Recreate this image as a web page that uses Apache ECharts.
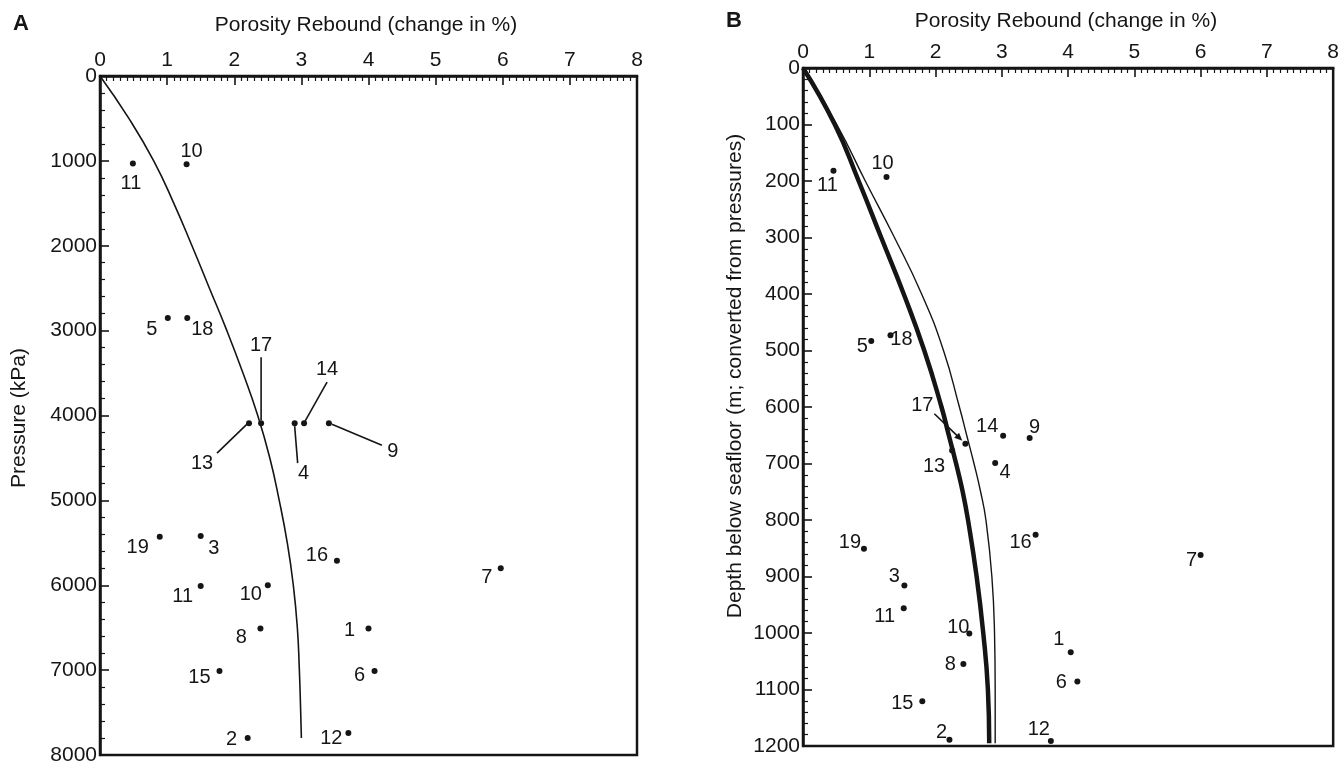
<!DOCTYPE html>
<html>
<head>
<meta charset="utf-8">
<script src="https://cdn.jsdelivr.net/npm/echarts@6/dist/echarts.min.js"></script>
<style>
  html, body { margin: 0; padding: 0; background: #ffffff; }
  #chart { width: 1342px; height: 769px; }
</style>
</head>
<body>
<div id="chart"></div>
<script>
// Core sample numbers, same order in both panels
const sampleIds = ['11', '10', '5', '18', '17', '13', '14', '4', '9', '19', '3', '16', '7', '11', '10', '8', '1', '15', '6', '2', '12'];

// Panel A: overburden pressure (kPa) and porosity rebound (%)
const pressureKPa = [1030, 1040, 2850, 2850, 4090, 4090, 4090, 4090, 4090, 5430, 5420, 5710, 5800, 6010, 6000, 6510, 6510, 7010, 7010, 7800, 7740];
const reboundA = [0.49, 1.29, 1.01, 1.30, 2.40, 2.22, 3.04, 2.90, 3.41, 0.89, 1.50, 3.53, 5.97, 1.50, 2.50, 2.39, 4.00, 1.78, 4.09, 2.20, 3.70];

// Panel B: depth below seafloor (m) and porosity rebound (%)
const depthM = [182, 193, 483, 473, 665, 677, 651, 699, 655, 851, 916, 826, 862, 956, 1001, 1055, 1034, 1121, 1086, 1189, 1191];
const reboundB = [0.46, 1.26, 1.03, 1.32, 2.45, 2.25, 3.02, 2.90, 3.42, 0.92, 1.53, 3.51, 6.00, 1.52, 2.51, 2.42, 4.04, 1.80, 4.14, 2.21, 3.74];

// Trend curve, panel A
const trendAPressure = [0, 500, 1000, 1500, 2000, 2500, 3000, 3500, 4000, 4500, 5000, 5500, 6000, 6500, 7000, 7500, 7800];
const trendARebound = [0, 0.43, 0.80, 1.10, 1.37, 1.63, 1.89, 2.13, 2.35, 2.53, 2.67, 2.79, 2.88, 2.94, 2.97, 2.99, 3.00];

// Trend curves, panel B (heavy and light)
const trendBDepth = [0, 100, 200, 300, 400, 500, 600, 650, 700, 750, 800, 900, 1000, 1100, 1195];
const trendBHeavy = [0, 0.48, 0.84, 1.18, 1.52, 1.83, 2.09, 2.20, 2.31, 2.41, 2.49, 2.62, 2.72, 2.79, 2.81];
const trendBLight = [0, 0.51, 0.94, 1.38, 1.79, 2.12, 2.36, 2.47, 2.58, 2.68, 2.76, 2.85, 2.89, 2.90, 2.90];

// Label placement (pixel offsets from each point)
const labelOffsetA = [[-2, 20], [5, -13], [-16, 12], [15, 12], [0, -78], [-47, 40], [23, -54], [9, 50], [64, 28], [-22, 11], [13, 12], [-20, -5], [-14, 9], [-18, 10], [-17, 9], [-19, 9], [-19, 2], [-20, 7], [-15, 5], [-16, 1], [-17, 6]];
const labelOffsetB = [[-6, 15], [-4, -14], [-9, 6], [11, 4], [-43, -38], [-18, 16], [-16, -9], [10, 10], [5, -11], [-14, -6], [-10, -9], [-15, 8], [-9, 5], [-19, 8], [-11, -6], [-13, 0], [-12, -13], [-20, 2], [-16, 1], [-8, -7], [-12, -11]];

// Leader lines in panel A: point index, start and end offsets (px)
const leadersA = [
  { i: 4, from: [0, -66], to: [0, -3] },
  { i: 5, from: [-32, 30], to: [-2, 1] },
  { i: 6, from: [23, -41], to: [1, -2] },
  { i: 7, from: [0, 3], to: [3, 40] },
  { i: 8, from: [3, 1], to: [53, 22] }
];

const FONT = '"Liberation Sans", Arial, Helvetica, sans-serif';
const INK = '#151515';

const chart = echarts.init(document.getElementById('chart'), null, { renderer: 'canvas' });

const plainNumber = function (v) { return String(v); };

function xAxisFor(gridIndex) {
  return {
    type: 'value', gridIndex: gridIndex, position: 'top',
    min: 0, max: 8, interval: 1,
    axisLine: { show: true, onZero: false, lineStyle: { color: INK, width: 2.5 } },
    axisTick: { show: true, inside: true, length: 9, lineStyle: { color: INK, width: 1.6 } },
    minorTick: { show: true, splitNumber: 10, length: 5, lineStyle: { color: INK, width: 1.2 } },
    splitLine: { show: false }, minorSplitLine: { show: false },
    axisLabel: { color: INK, fontFamily: FONT, fontSize: 21, margin: 5, formatter: plainNumber }
  };
}
function yAxisFor(gridIndex, max, interval) {
  return {
    type: 'value', gridIndex: gridIndex, inverse: true,
    min: 0, max: max, interval: interval,
    axisLine: { show: true, onZero: false, lineStyle: { color: INK, width: 2.5 } },
    axisTick: { show: true, inside: true, length: 9, lineStyle: { color: INK, width: 1.6 } },
    minorTick: { show: true, splitNumber: 5, length: 5, lineStyle: { color: INK, width: 1.2 } },
    splitLine: { show: false }, minorSplitLine: { show: false },
    axisLabel: { color: INK, fontFamily: FONT, fontSize: 21, margin: 3, formatter: plainNumber }
  };
}

function scatterData(xs, ys, offsets) {
  return xs.map(function (x, k) {
    return { value: [x, ys[k]], label: { offset: offsets[k] } };
  });
}
function curveData(xs, ys) {
  return xs.map(function (x, k) { return [x, ys[k]]; });
}

const pointLabel = {
  show: true, position: 'inside',
  formatter: function (p) { return sampleIds[p.dataIndex]; },
  color: INK, fontFamily: FONT, fontSize: 20,
  textBorderWidth: 0, align: 'center', verticalAlign: 'middle'
};

chart.setOption({
  animation: false,
  backgroundColor: '#ffffff',
  grid: [
    { left: 100, top: 76, width: 537, height: 679, show: true, borderColor: INK, borderWidth: 2.5, backgroundColor: 'transparent' },
    { left: 803, top: 68, width: 532, height: 678, show: true, borderColor: INK, borderWidth: 2.5, backgroundColor: 'transparent' }
  ],
  xAxis: [xAxisFor(0), xAxisFor(1)],
  yAxis: [yAxisFor(0, 8000, 1000), yAxisFor(1, 1200, 100)],
  series: [
    {
      type: 'line', xAxisIndex: 0, yAxisIndex: 0,
      data: curveData(trendARebound, trendAPressure),
      smooth: 0.5, showSymbol: false, silent: true,
      lineStyle: { color: INK, width: 1.6 }
    },
    {
      type: 'line', xAxisIndex: 1, yAxisIndex: 1,
      data: curveData(trendBLight, trendBDepth),
      smooth: 0.5, showSymbol: false, silent: true,
      lineStyle: { color: INK, width: 1.4 }
    },
    {
      type: 'line', xAxisIndex: 1, yAxisIndex: 1,
      data: curveData(trendBHeavy, trendBDepth),
      smooth: 0.5, showSymbol: false, silent: true,
      lineStyle: { color: INK, width: 4.5 }
    },
    {
      type: 'scatter', xAxisIndex: 0, yAxisIndex: 0,
      data: scatterData(reboundA, pressureKPa, labelOffsetA),
      symbol: 'circle', symbolSize: 6,
      itemStyle: { color: INK, opacity: 1 },
      label: pointLabel
    },
    {
      type: 'scatter', xAxisIndex: 1, yAxisIndex: 1,
      data: scatterData(reboundB, depthM, labelOffsetB),
      symbol: 'circle', symbolSize: 6,
      itemStyle: { color: INK, opacity: 1 },
      label: pointLabel
    }
  ]
});

// Titles, axis names, leader lines and the arrow for sample 17
const textStyle = function (text, size, weight) {
  return { text: text, fill: INK, font: (weight || 'normal') + ' ' + size + 'px ' + FONT, textAlign: 'center', textVerticalAlign: 'middle' };
};
const elements = [
  { type: 'text', x: 21, y: 24, style: textStyle('A', 22, 'bold') },
  { type: 'text', x: 734, y: 21, style: textStyle('B', 22, 'bold') },
  { type: 'text', x: 366, y: 25, style: textStyle('Porosity Rebound (change in %)', 21) },
  { type: 'text', x: 1066, y: 21, style: textStyle('Porosity Rebound (change in %)', 21) },
  { type: 'text', x: 19, y: 418, rotation: Math.PI / 2, style: textStyle('Pressure (kPa)', 21) },
  { type: 'text', x: 735, y: 376, rotation: Math.PI / 2, style: textStyle('Depth below seafloor (m; converted from pressures)', 21) }
];

leadersA.forEach(function (ld) {
  const p = chart.convertToPixel({ gridIndex: 0 }, [reboundA[ld.i], pressureKPa[ld.i]]);
  elements.push({
    type: 'line', silent: true,
    shape: { x1: p[0] + ld.from[0], y1: p[1] + ld.from[1], x2: p[0] + ld.to[0], y2: p[1] + ld.to[1] },
    style: { stroke: INK, lineWidth: 1.6 }
  });
});

(function () {
  const k = 4; // sample 17 in panel B
  const p = chart.convertToPixel({ gridIndex: 1 }, [reboundB[k], depthM[k]]);
  const sx = p[0] - 31, sy = p[1] - 30, ex = p[0] - 3, ey = p[1] - 3;
  const len = Math.hypot(ex - sx, ey - sy);
  const ux = (ex - sx) / len, uy = (ey - sy) / len;
  const hl = 8, hw = 3.5;
  elements.push({
    type: 'line', silent: true,
    shape: { x1: sx, y1: sy, x2: ex - ux * hl * 0.6, y2: ey - uy * hl * 0.6 },
    style: { stroke: INK, lineWidth: 1.6 }
  });
  elements.push({
    type: 'polygon', silent: true,
    shape: { points: [[ex, ey], [ex - ux * hl - uy * hw, ey - uy * hl + ux * hw], [ex - ux * hl + uy * hw, ey - uy * hl - ux * hw]] },
    style: { fill: INK }
  });
})();

chart.setOption({ graphic: { elements: elements } });
</script>
</body>
</html>
